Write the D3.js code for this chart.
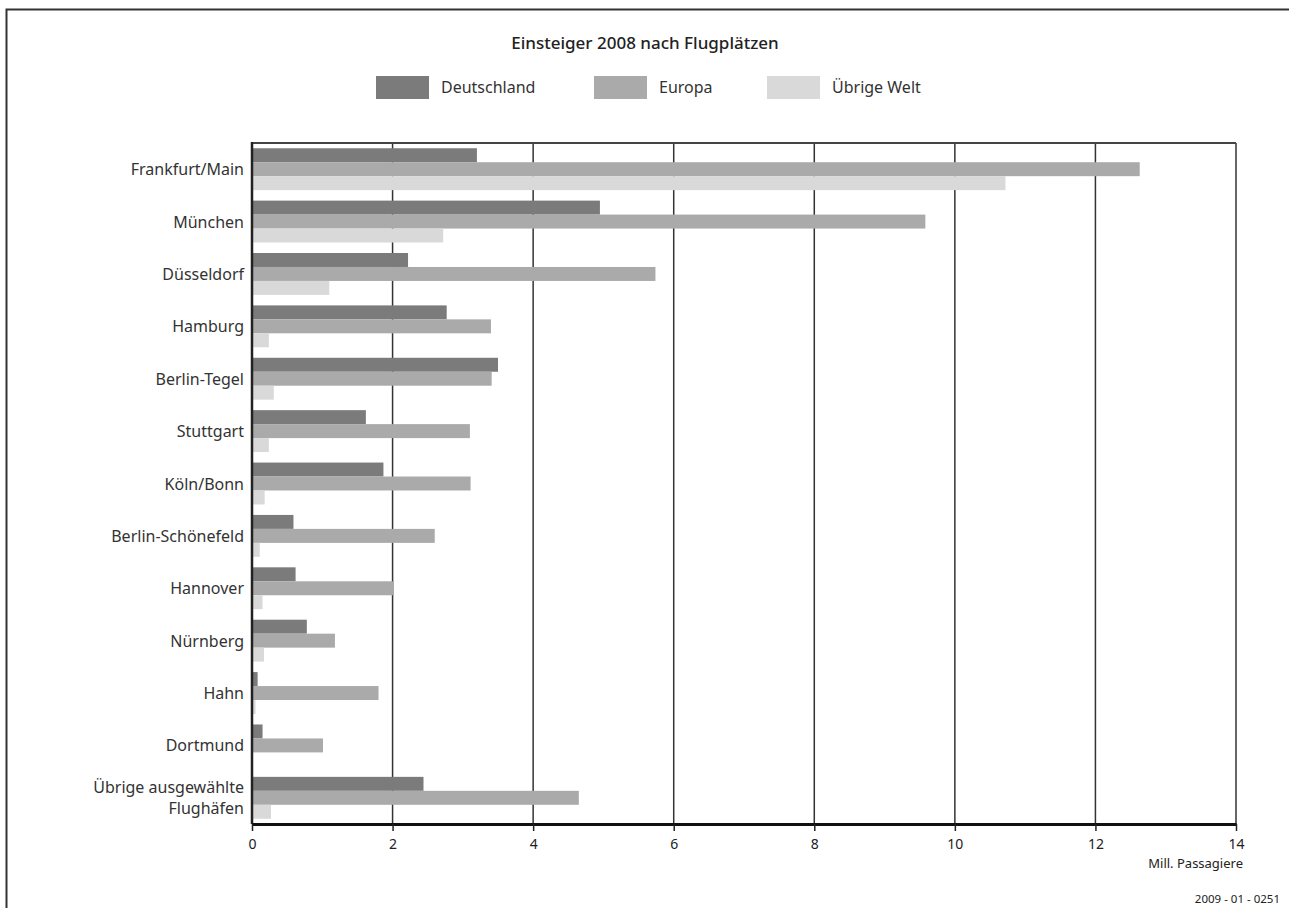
<!DOCTYPE html>
<html>
<head>
<meta charset="utf-8">
<script src="https://cdn.jsdelivr.net/npm/d3@7"></script>
<style>
  body { margin: 0; background: #fff; }
  svg { font-family: "Noto Sans", sans-serif; }
</style>
</head>
<body>
<svg id="chart" width="1289" height="908"></svg>
<script>
// Einsteiger 2008 nach Flugplätzen (Mill. Passagiere)
const airports = [
  'Frankfurt/Main', 'München', 'Düsseldorf', 'Hamburg', 'Berlin-Tegel',
  'Stuttgart', 'Köln/Bonn', 'Berlin-Schönefeld', 'Hannover', 'Nürnberg',
  'Hahn', 'Dortmund', 'Übrige ausgewählte\nFlughäfen'
];
const series = ['Deutschland', 'Europa', 'Übrige Welt'];
const deutschland = [3.20, 4.95, 2.22, 2.77, 3.50, 1.62, 1.87, 0.59, 0.62, 0.78, 0.08, 0.15, 2.44];
const europa      = [12.63, 9.58, 5.74, 3.40, 3.41, 3.10, 3.11, 2.60, 2.02, 1.18, 1.80, 1.01, 4.65];
const uebrigeWelt = [10.72, 2.72, 1.10, 0.24, 0.31, 0.24, 0.18, 0.11, 0.15, 0.17, 0.05, 0, 0.27];
const xTicks = [0, 2, 4, 6, 8, 10, 12, 14];
const colors = ['#7b7b7b', '#aaaaaa', '#d9d9d9'];

const data = airports.map((a, i) => ({
  name: a,
  values: [deutschland[i], europa[i], uebrigeWelt[i]]
}));

const svg = d3.select('#chart');
const plotLeft = 252, plotRight = 1236, plotTop = 143, plotBottom = 824;

// outer frame: only top and left edges are visible
svg.append('path')
  .attr('d', 'M6.5,908 V9.5 H1289')
  .attr('fill', 'none').attr('stroke', '#333').attr('stroke-width', 2);

const x = d3.scaleLinear().domain([0, 14]).range([plotLeft, plotRight]);
const y = d3.scaleBand().domain(airports).range([plotTop, plotBottom])
  .paddingInner(0.2).paddingOuter(0.1);
const y1 = d3.scaleBand().domain(series).range([0, y.bandwidth()]);

// title
svg.append('text')
  .attr('x', 645).attr('y', 49)
  .attr('text-anchor', 'middle')
  .style('font-size', '17px').style('font-weight', '500').style('fill', '#222')
  .text('Einsteiger 2008 nach Flugplätzen');

// legend
const legendX = [376, 594, 767];
const legend = svg.append('g').selectAll('g')
  .data(series).enter().append('g')
  .attr('transform', (d, i) => `translate(${legendX[i]},76)`);
legend.append('rect')
  .attr('width', 53).attr('height', 23)
  .attr('fill', (d, i) => colors[i]);
legend.append('text')
  .attr('x', 65).attr('y', 17)
  .style('font-size', '16px').style('fill', '#333')
  .text(d => d);

// gridlines
svg.append('g').selectAll('line')
  .data(xTicks.slice(1)).enter().append('line')
  .attr('x1', d => x(d)).attr('x2', d => x(d))
  .attr('y1', plotTop).attr('y2', plotBottom)
  .attr('stroke', '#333').attr('stroke-width', 1.5);

// top line
svg.append('line')
  .attr('x1', plotLeft).attr('x2', plotRight).attr('y1', plotTop).attr('y2', plotTop)
  .attr('stroke', '#444').attr('stroke-width', 2);

// bars
const groups = svg.append('g').selectAll('g')
  .data(data).enter().append('g')
  .attr('transform', d => `translate(0,${y(d.name)})`);
groups.selectAll('rect')
  .data(d => d.values.map((v, i) => ({ key: series[i], v, i })))
  .enter().append('rect')
  .attr('x', x(0))
  .attr('y', d => y1(d.key))
  .attr('width', d => x(d.v) - x(0))
  .attr('height', y1.bandwidth())
  .attr('fill', d => colors[d.i]);

// category labels
const labels = svg.append('g').selectAll('text')
  .data(airports).enter().append('text')
  .attr('text-anchor', 'end')
  .attr('x', plotLeft - 8)
  .style('font-size', '16px').style('fill', '#333');
labels.each(function (d) {
  const lines = d.split('\n');
  const cy = y(d) + y.bandwidth() / 2;
  const t = d3.select(this);
  lines.forEach((l, k) => {
    t.append('tspan')
      .attr('x', plotLeft - 8)
      .attr('y', cy + 6 + (k - (lines.length - 1) / 2) * 21)
      .text(l);
  });
});

// y axis line
svg.append('line')
  .attr('x1', plotLeft).attr('x2', plotLeft).attr('y1', plotTop - 1).attr('y2', plotBottom)
  .attr('stroke', '#222').attr('stroke-width', 2.5);

// x axis
const xAxis = svg.append('g')
  .attr('transform', `translate(0,${plotBottom})`)
  .call(d3.axisBottom(x).tickValues(xTicks).tickSize(7).tickPadding(8).tickSizeOuter(0));
xAxis.select('.domain').attr('stroke', '#111').attr('stroke-width', 3);
xAxis.selectAll('.tick line').attr('stroke', '#222').attr('stroke-width', 1.5);
xAxis.selectAll('.tick text')
  .style('font-family', '"Noto Sans", sans-serif')
  .style('font-size', '14px').style('fill', '#222');

svg.append('text')
  .attr('x', 1243).attr('y', 868)
  .attr('text-anchor', 'end')
  .style('font-size', '13px').style('fill', '#222')
  .text('Mill. Passagiere');

svg.append('text')
  .attr('x', 1280).attr('y', 903)
  .attr('text-anchor', 'end')
  .style('font-size', '11.5px').style('fill', '#222')
  .text('2009 - 01 - 0251');
</script>
</body>
</html>
